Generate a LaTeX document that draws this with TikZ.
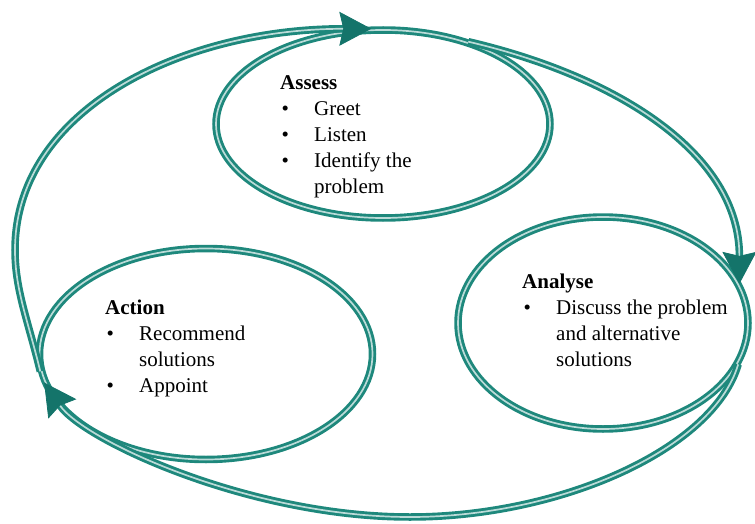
\documentclass[tikz,border=0pt]{standalone}
\usepackage{fontspec}
\setmainfont{Liberation Serif}
\usetikzlibrary{arrows.meta,shapes.geometric}
\definecolor{cyc}{RGB}{30,136,124}
\definecolor{cycdark}{RGB}{20,116,106}
\newcommand{\bitem}[1]{\makebox[34pt][l]{\hspace{1.5pt}\textbullet}#1}
\newcommand{\bcont}[1]{\hspace*{34pt}#1}

\begin{document}
\begin{tikzpicture}[
  x=1pt, y=-1pt,
  stage/.style={draw=cyc, ellipse, line width=2.9pt, double=cyc!30,
                double distance=1.7pt, inner sep=0pt},
  txt/.style={align=left, anchor=north west, inner sep=0pt,
              font=\fontsize{21}{26}\selectfont},
  flow/.style={draw=cyc, line width=2.9pt, double=cyc!30, double distance=1.7pt},
  arr/.style={-{Stealth[length=32pt, width=34pt, inset=4pt, line width=0.8pt, color=cycdark]}},
]
\useasboundingbox (0,0) rectangle (755,524);
\node[stage, minimum width=334pt, minimum height=188pt] (assess) at (383,124) {};
\node[stage, minimum width=333pt, minimum height=211pt] (action) at (206,354) {};
\node[stage, minimum width=290pt, minimum height=212pt] (analyse) at (603,323) {};
\node[txt] (assesstxt) at (280,75)
      {\textbf{Assess}\\ \bitem{Greet}\\ \bitem{Listen}\\ \bitem{Identify the}\\ \bcont{problem}};
\node[txt] (actiontxt) at (105,300)
      {\textbf{Action}\\ \bitem{Recommend}\\ \bcont{solutions}\\ \bitem{Appoint}};
\node[txt] (analysetxt) at (522,274)
      {\textbf{Analyse}\\ \bitem{Discuss the problem}\\ \bcont{and alternative}\\ \bcont{solutions}};
\coordinate (lft) at (15,250);
\coordinate (bot) at (410,517);
\draw[flow, arr] (action.186) .. controls +(-12,-50) and +(0,40) .. (lft)
      .. controls +(0,-140) and +(-190,0) .. (assess.97);
\draw[flow, arr] (assess.44) .. controls +(150,35) and +(0,-130) .. (analyse.16);
\draw[flow, arr] (analyse.-17) .. controls +(-25,85) and +(150,0) .. (bot)
      .. controls +(-160,0) and +(40,58) .. (action.190);
\end{tikzpicture}
\end{document}
